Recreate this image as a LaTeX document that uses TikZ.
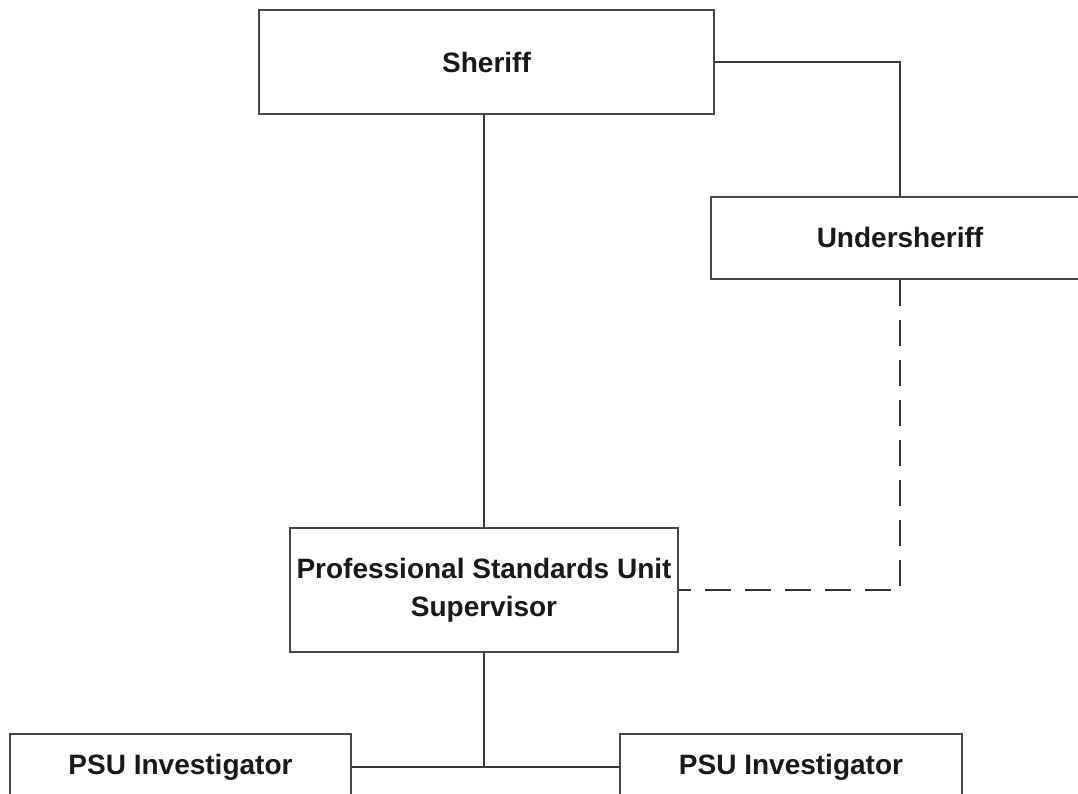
\documentclass[tikz,border=0pt]{standalone}
\usepackage{fontspec}
\setmainfont{Liberation Sans}
\begin{document}
\begin{tikzpicture}[x=1pt,y=-1pt,
  orgbox/.style={draw=black!72, line width=2pt, fill=white, rectangle, inner sep=0pt,
    font=\fontsize{28}{38}\selectfont\bfseries, text=black!90, align=center},
  link/.style={draw=black!78, line width=1.6pt},
  dlink/.style={draw=black!80, line width=1.8pt, dash pattern=on 26pt off 14pt}]
\useasboundingbox (0,0) rectangle (1078,793);
\clip (0,0) rectangle (1078,793);
\fill[white] (0,0) rectangle (1078,793);
\node[orgbox, minimum width=455pt, minimum height=104pt] (sheriff) at (486.5,62) {Sheriff};
\node[orgbox, minimum width=378pt, minimum height=82pt] (under) at (900,237.5) {Undersheriff};
\node[orgbox, minimum width=388pt, minimum height=124pt] (sup) at (484,590) {Professional Standards Unit\\Supervisor};
\node[orgbox, minimum width=341pt, minimum height=66pt] (inv1) at (180.5,767) {PSU Investigator};
\node[orgbox, minimum width=342pt, minimum height=66pt] (inv2) at (791,767) {PSU Investigator};
\coordinate (join) at (sup.south |- inv1.east);
\draw[link] (sheriff.south -| sup.north) -- (sup.north);
\draw[link] (sheriff.east) -| (under.north);
\draw[dlink] (under.south) |- (sup.east);
\draw[link] (sup.south) -- (join);
\draw[link] (inv1.east) -- (inv2.west);
\end{tikzpicture}
\end{document}
